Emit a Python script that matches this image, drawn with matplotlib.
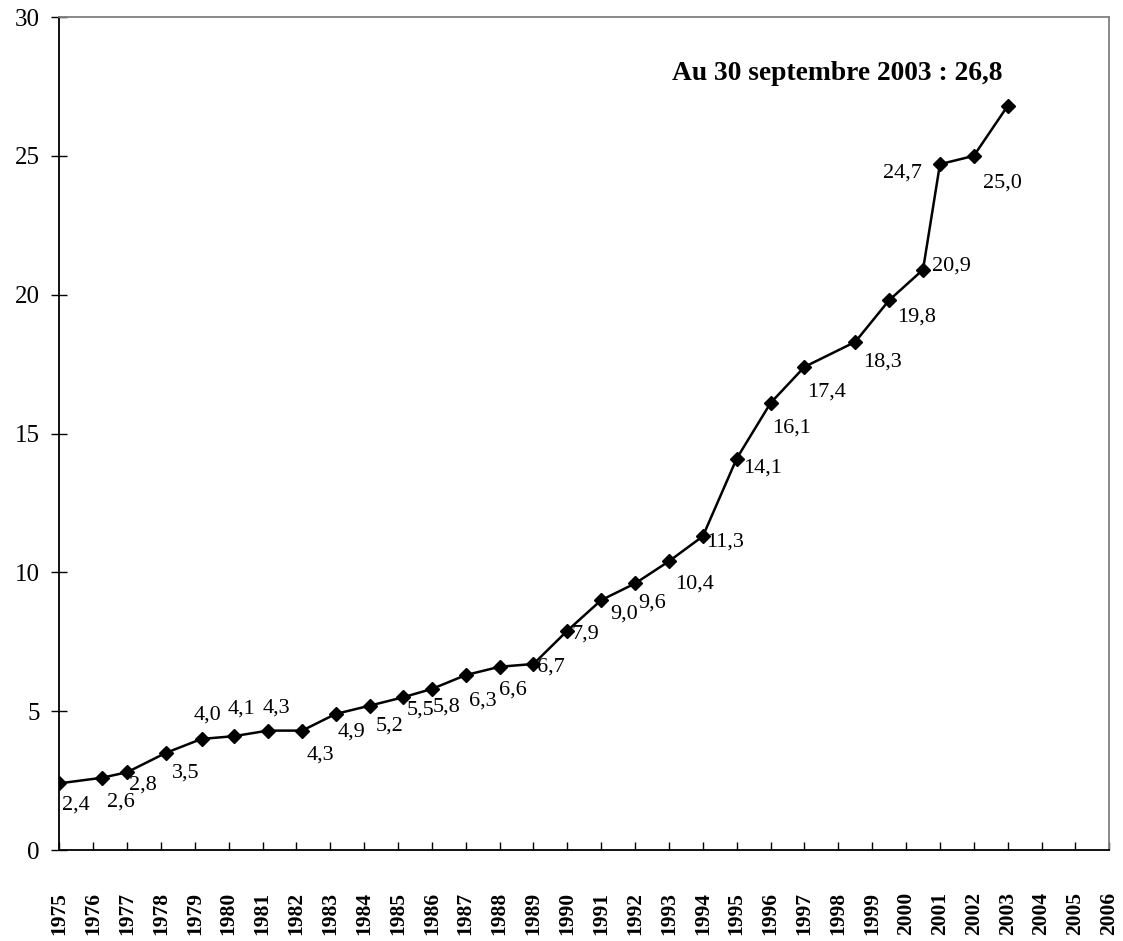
import matplotlib
matplotlib.use("Agg")
import matplotlib.pyplot as plt

# position of each point on the time axis (fractional years) and value
YEARS = [1975.0, 1976.25, 1977.0, 1978.15, 1979.2, 1980.16, 1981.16, 1982.17,
         1983.16, 1984.17, 1985.15, 1986.0, 1987.0, 1988.0, 1989.0, 1990.0,
         1991.0, 1992.0, 1993.0, 1994.0, 1995.0, 1996.0, 1997.0, 1998.5,
         1999.5, 2000.5, 2001.0, 2002.0, 2003.0]
VALUES = [2.4, 2.6, 2.8, 3.5, 4.0, 4.1, 4.3, 4.3, 4.9, 5.2, 5.5, 5.8, 6.3, 6.6,
          6.7, 7.9, 9.0, 9.6, 10.4, 11.3, 14.1, 16.1, 17.4, 18.3, 19.8, 20.9,
          24.7, 25.0, 26.8]
TICK_YEARS = list(range(1975, 2007))
Y_TICKS = [0, 5, 10, 15, 20, 25, 30]
NOTE = "Au 30 septembre 2003 : 26,8"

# label offsets from each point, in pixels (right, down); last point has none
OFFSETS = [(17, 22), (19, 24), (16, 13), (20, 20), (6, -24), (7, -27), (8, -23),
           (18, 24), (16, 18), (20, 20), (17, 13), (15, 18), (17, 26), (13, 23),
           (17, 3), (18, 3), (23, 14), (17, 20), (26, 23), (22, 6), (26, 10),
           (21, 25), (22, 25), (27, 20), (27, 17), (28, -4), (-38, 9), (29, 27)]

plt.rcParams["font.family"] = ["Liberation Serif", "DejaVu Serif"]

fig = plt.figure(figsize=(11.23, 9.41), dpi=100)
ax = fig.add_axes([0.0528, 0.0967, 0.935, 0.8852])

ax.plot(YEARS, VALUES, color="black", lw=1.8, marker="D", ms=7,
        mfc="black", mec="black", mew=1.0, zorder=3)

px = 72 / 100
for x, y, (dx, dy) in zip(YEARS, VALUES, OFFSETS):
    ax.annotate(f"{y:.1f}".replace(".", ","), (x, y),
                xytext=(dx * px, -dy * px), textcoords="offset points",
                ha="center", va="center", fontsize=16)

ax.text(1997.96, 27.75, NOTE, ha="center", va="baseline", fontsize=19.8,
        fontweight="bold")

ax.set_xlim(1975, 2006)
ax.set_ylim(0, 30)
ax.set_xticks(TICK_YEARS)
ax.set_xticklabels([str(y) for y in TICK_YEARS], rotation=90,
                   fontweight="bold", fontsize=15.5, va="top")
ax.set_yticks(Y_TICKS)
ax.set_yticklabels([str(v) for v in Y_TICKS], fontsize=18)
ax.tick_params(axis="x", direction="in", length=6, width=1, pad=30)
ax.tick_params(axis="y", direction="inout", length=12, width=1, pad=8)

for side in ("left", "bottom"):
    ax.spines[side].set_color("black")
    ax.spines[side].set_linewidth(1.3)
for side in ("top", "right"):
    ax.spines[side].set_color("#808080")
    ax.spines[side].set_linewidth(1.3)

fig.savefig("out.png", dpi=100)
